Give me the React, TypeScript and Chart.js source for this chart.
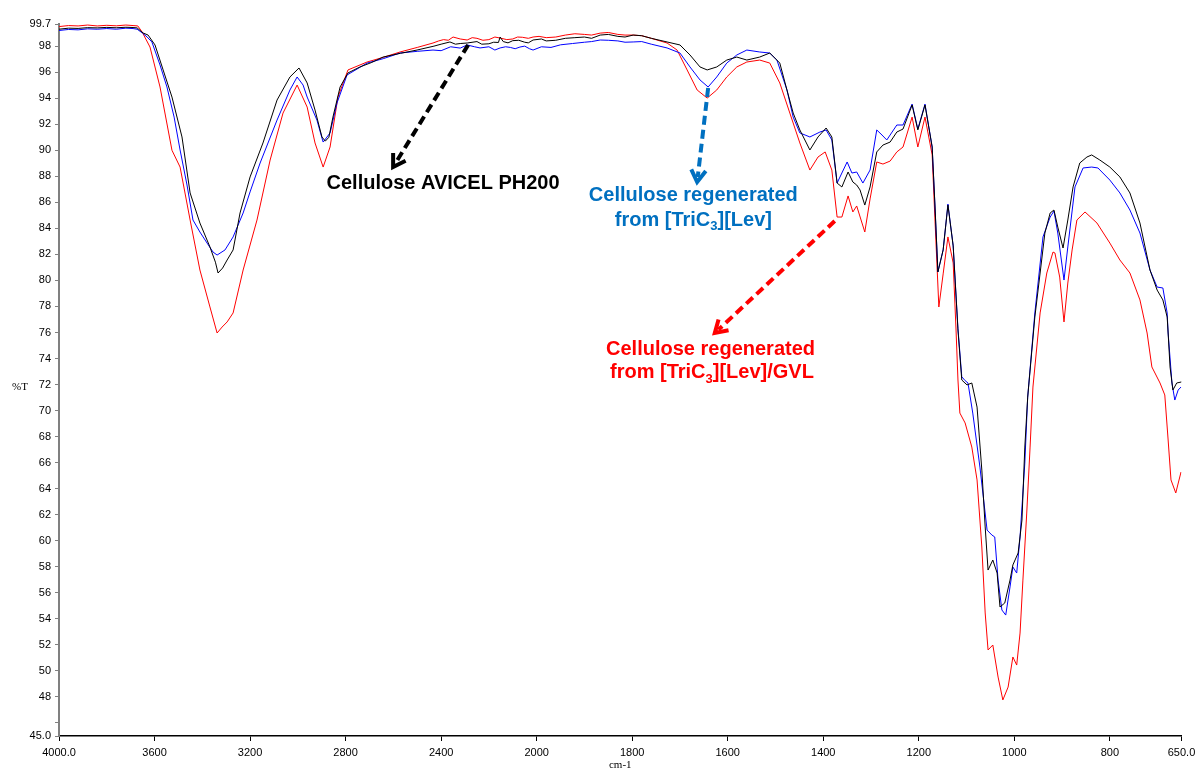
import React, { useEffect, useRef } from 'react';
import { Chart, registerables, LinearScale } from 'chart.js';

// ---------------- DATA ----------------
// Cellulose AVICEL PH200 (black)
const avicelWn = [4000, 3960, 3920, 3880, 3840, 3800, 3760, 3720, 3690, 3673, 3648, 3627, 3598, 3564, 3527, 3485, 3451, 3410, 3368, 3345, 3334, 3315, 3296, 3271, 3242, 3200, 3146, 3087, 3033, 2995, 2961, 2928, 2899, 2885, 2870, 2853, 2823, 2790, 2740, 2690, 2643, 2570, 2501, 2430, 2400, 2363, 2340, 2320, 2291, 2250, 2230, 2200, 2180, 2160, 2153, 2140, 2120, 2100, 2075, 2050, 2035, 2015, 1990, 1980, 1960, 1940, 1920, 1900, 1885, 1867, 1850, 1830, 1815, 1798, 1780, 1760, 1727, 1700, 1679, 1658, 1643, 1623, 1602, 1581, 1560, 1533, 1512, 1491, 1476, 1463, 1449, 1428, 1411, 1394, 1382, 1371, 1361, 1348, 1338, 1330, 1323, 1313, 1302, 1288, 1275, 1260, 1246, 1233, 1214, 1202, 1187, 1172, 1166, 1160, 1149, 1139, 1128, 1118, 1110, 1099, 1089, 1078, 1068, 1061, 1055, 1045, 1036, 1030, 1020, 1009, 1003, 992, 984, 978, 972, 957, 946, 936, 925, 917, 909, 898, 888, 877, 863, 848, 838, 821, 800, 779, 758, 737, 716, 701, 689, 680, 678, 674, 668, 660, 650];
const avicelT = [99.30, 99.38, 99.36, 99.42, 99.40, 99.44, 99.41, 99.45, 99.43, 99.40, 99.01, 98.85, 98.09, 96.17, 94.09, 91.02, 86.72, 84.41, 82.57, 81.40, 80.57, 80.95, 81.57, 82.34, 85.18, 87.95, 90.56, 93.86, 95.63, 96.32, 95.17, 93.09, 91.02, 90.70, 91.00, 92.55, 94.86, 95.94, 96.40, 96.75, 97.16, 97.45, 97.70, 98.00, 98.15, 98.32, 98.15, 98.20, 98.24, 98.35, 98.15, 98.18, 98.30, 98.28, 98.70, 98.35, 98.25, 98.42, 98.45, 98.30, 98.25, 98.47, 98.55, 98.40, 98.45, 98.60, 98.65, 98.70, 98.60, 98.85, 98.90, 98.75, 98.70, 98.85, 98.80, 98.60, 98.32, 98.09, 97.32, 96.40, 96.17, 96.40, 96.93, 97.16, 96.93, 97.16, 97.47, 96.70, 94.63, 92.86, 91.56, 90.02, 91.02, 91.71, 91.02, 87.48, 87.18, 88.33, 87.56, 87.33, 86.95, 85.79, 87.18, 89.87, 90.40, 90.63, 91.40, 91.63, 93.48, 91.56, 93.48, 90.25, 85.64, 80.65, 82.34, 85.79, 82.65, 76.19, 72.35, 71.97, 72.12, 70.27, 65.43, 61.06, 57.75, 58.52, 57.52, 54.91, 55.22, 56.98, 58.14, 59.06, 61.59, 67.20, 71.04, 77.19, 80.57, 83.64, 85.18, 85.41, 84.10, 82.49, 84.64, 87.18, 89.02, 89.48, 89.64, 89.25, 88.71, 87.95, 86.72, 84.41, 80.80, 79.26, 78.50, 77.19, 75.96, 73.35, 71.58, 72.12, 72.20];

// Cellulose regenerated from [TriC3][Lev] (blue)
const tricWn = [4000, 3960, 3920, 3880, 3840, 3800, 3760, 3720, 3690, 3673, 3650, 3631, 3611, 3577, 3548, 3518, 3493, 3464, 3439, 3410, 3380, 3355, 3338, 3305, 3271, 3229, 3200, 3158, 3087, 3033, 3003, 2978, 2961, 2920, 2899, 2894, 2865, 2836, 2794, 2710, 2640, 2572, 2500, 2434, 2400, 2360, 2320, 2291, 2260, 2237, 2200, 2175, 2153, 2130, 2110, 2090, 2070, 2050, 2030, 2015, 1990, 1970, 1950, 1925, 1900, 1885, 1867, 1850, 1830, 1815, 1798, 1780, 1760, 1727, 1700, 1679, 1658, 1641, 1623, 1602, 1581, 1560, 1533, 1512, 1497, 1476, 1463, 1449, 1438, 1428, 1407, 1394, 1382, 1371, 1350, 1340, 1330, 1317, 1302, 1288, 1277, 1267, 1246, 1233, 1214, 1202, 1187, 1172, 1166, 1160, 1149, 1139, 1128, 1118, 1110, 1103, 1097, 1087, 1072, 1057, 1047, 1041, 1034, 1026, 1018, 1009, 1003, 995, 988, 978, 972, 957, 940, 925, 917, 909, 896, 888, 873, 856, 838, 825, 800, 779, 758, 737, 716, 701, 689, 680, 678, 670, 664, 657, 651];
const tricT = [99.20, 99.28, 99.25, 99.33, 99.30, 99.35, 99.30, 99.38, 99.35, 99.30, 99.00, 98.70, 98.32, 96.55, 94.86, 92.55, 90.02, 87.33, 84.64, 83.72, 82.87, 82.18, 81.95, 82.34, 83.34, 85.18, 86.80, 89.02, 92.32, 94.63, 95.63, 95.01, 94.09, 92.32, 90.94, 90.63, 91.33, 93.63, 95.78, 96.70, 97.05, 97.47, 97.60, 97.70, 97.65, 97.95, 97.85, 98.09, 97.95, 97.86, 97.95, 97.70, 97.86, 97.95, 97.90, 97.80, 97.93, 98.00, 97.80, 97.70, 97.95, 97.90, 98.10, 98.20, 98.30, 98.35, 98.47, 98.45, 98.40, 98.30, 98.32, 98.35, 98.15, 97.86, 97.47, 96.40, 95.40, 94.86, 95.63, 96.70, 97.32, 97.70, 97.55, 97.47, 96.93, 94.63, 92.55, 91.33, 91.17, 91.02, 91.40, 91.56, 90.79, 87.48, 89.10, 88.25, 88.33, 87.48, 88.48, 91.56, 91.17, 90.79, 91.94, 91.94, 93.55, 91.63, 93.55, 90.25, 85.64, 80.65, 82.34, 85.87, 82.65, 76.30, 72.60, 72.30, 72.12, 69.81, 65.66, 60.82, 60.44, 60.29, 56.98, 54.68, 54.29, 56.45, 57.98, 57.52, 60.29, 65.97, 71.04, 77.50, 83.34, 84.87, 85.33, 83.64, 80.03, 82.57, 87.18, 88.64, 88.71, 88.64, 87.71, 86.72, 85.41, 83.64, 80.80, 79.49, 79.42, 77.50, 75.96, 72.12, 70.81, 71.58, 71.81];

// Cellulose regenerated from [TriC3][Lev]/GVL (red)
const gvlWn = [4000, 3960, 3920, 3880, 3840, 3800, 3760, 3720, 3690, 3670, 3652, 3619, 3577, 3527, 3493, 3451, 3410, 3368, 3338, 3317, 3296, 3271, 3229, 3171, 3116, 3062, 3003, 2961, 2928, 2894, 2865, 2832, 2790, 2710, 2640, 2572, 2500, 2434, 2410, 2390, 2370, 2350, 2320, 2291, 2270, 2250, 2225, 2200, 2175, 2153, 2125, 2100, 2080, 2060, 2035, 2015, 1995, 1980, 1960, 1940, 1920, 1900, 1885, 1867, 1850, 1830, 1815, 1798, 1780, 1760, 1727, 1706, 1685, 1664, 1643, 1623, 1602, 1581, 1560, 1533, 1512, 1491, 1470, 1449, 1428, 1411, 1396, 1382, 1371, 1361, 1348, 1338, 1330, 1313, 1302, 1288, 1275, 1260, 1246, 1233, 1214, 1202, 1187, 1172, 1166, 1158, 1149, 1139, 1128, 1122, 1118, 1114, 1103, 1089, 1078, 1068, 1061, 1055, 1045, 1034, 1024, 1013, 1003, 995, 988, 982, 974, 967, 961, 946, 932, 919, 915, 905, 896, 888, 879, 869, 852, 827, 800, 779, 758, 737, 722, 712, 695, 685, 678, 672, 662, 651];
const gvlT = [99.50, 99.58, 99.55, 99.62, 99.55, 99.60, 99.56, 99.62, 99.58, 99.55, 99.09, 97.93, 94.86, 90.00, 88.71, 84.64, 80.80, 77.96, 75.96, 76.42, 76.81, 77.50, 80.80, 84.64, 89.25, 92.86, 95.01, 93.32, 90.56, 88.71, 90.25, 94.09, 96.17, 96.78, 97.15, 97.55, 97.90, 98.24, 98.40, 98.50, 98.45, 98.70, 98.55, 98.47, 98.65, 98.60, 98.45, 98.50, 98.70, 98.62, 98.50, 98.55, 98.70, 98.68, 98.60, 98.70, 98.75, 98.65, 98.70, 98.85, 98.95, 98.90, 98.85, 99.00, 99.05, 98.90, 98.85, 98.85, 98.80, 98.60, 98.24, 97.70, 96.17, 94.63, 94.01, 94.63, 95.63, 96.40, 96.78, 96.93, 96.70, 95.17, 92.86, 90.56, 88.48, 89.48, 89.87, 88.48, 84.87, 84.87, 86.49, 85.26, 85.72, 83.72, 86.26, 89.10, 88.94, 89.17, 89.87, 90.25, 92.55, 90.25, 92.55, 89.64, 84.56, 77.96, 80.50, 83.34, 81.34, 76.19, 72.35, 69.81, 69.05, 67.20, 64.67, 59.52, 54.45, 51.61, 51.99, 49.53, 47.77, 48.76, 51.07, 50.45, 52.91, 56.98, 62.13, 67.20, 71.81, 77.50, 80.57, 82.18, 82.11, 80.26, 76.81, 79.80, 82.34, 84.64, 85.26, 84.41, 82.87, 81.57, 80.57, 78.50, 75.96, 73.35, 72.12, 71.20, 67.74, 64.67, 63.67, 65.28];

// Axis ticks
const xTickValues = [4000, 3600, 3200, 2800, 2400, 2000, 1800, 1600, 1400, 1200, 1000, 800, 650];
const xTickLabels = ['4000.0', '3600', '3200', '2800', '2400', '2000', '1800', '1600', '1400', '1200', '1000', '800', '650.0'];
const yTickValues = [99.7, 98, 96, 94, 92, 90, 88, 86, 84, 82, 80, 78, 76, 74, 72, 70, 68, 66, 64, 62, 60, 58, 56, 54, 52, 50, 48, 46, 45];
const yTickLabels = ['99.7', '98', '96', '94', '92', '90', '88', '86', '84', '82', '80', '78', '76', '74', '72', '70', '68', '66', '64', '62', '60', '58', '56', '54', '52', '50', '48', '', '45.0'];

const seriesNames = ['Cellulose AVICEL PH200', 'Cellulose regenerated from [TriC3][Lev]', 'Cellulose regenerated from [TriC3][Lev]/GVL'];

// ---------------- AXIS / STYLE CONFIG ----------------
const X_MIN = 650;
const X_MAX = 4000;
const Y_MIN = 45;
const Y_MAX = 99.7;
const BREAK_WN = 2000; // scale changes here (spectrometer display)
const HIGH_COMPRESSION = 2; // above 2000 cm-1 the axis is compressed 2x

const BLUE_TEXT = '#0070C0';

// annotation placement in data units (wavenumber, %T)
const annotations = [
  {
    color: '#000000',
    from: [2287, 98.09], to: [2601, 88.71],
    lines: [{ at: [2392, 87.48], parts: [{ t: 'Cellulose AVICEL PH200' }] }],
  },
  {
    color: BLUE_TEXT,
    from: [1641, 94.78], to: [1664, 87.56],
    lines: [
      { at: [1672, 86.49], parts: [{ t: 'Cellulose regenerated' }] },
      { at: [1672, 84.64], parts: [{ t: 'from [TriC' }, { t: '3', sub: true }, { t: '][Lev]' }] },
    ],
  },
  {
    color: '#FF0000',
    from: [1376, 84.56], to: [1627, 75.96],
    lines: [
      { at: [1636, 74.73], parts: [{ t: 'Cellulose regenerated' }] },
      { at: [1633, 72.89], parts: [{ t: 'from [TriC' }, { t: '3', sub: true }, { t: '][Lev]/GVL' }] },
    ],
  },
];

// ---------------- CUSTOM SCALE ----------------
class SplitWavenumberScale extends LinearScale {
  static id = 'splitWavenumber';
  static defaults = {};

  _t(v: number) {
    const max = this.max;
    return v >= BREAK_WN ? (max - v) / HIGH_COMPRESSION : (max - BREAK_WN) / HIGH_COMPRESSION + (BREAK_WN - v);
  }
  getPixelForValue(value: number) {
    if (value === null || value === undefined || isNaN(value)) return NaN;
    return this.getPixelForDecimal(this._t(value) / this._t(this.min));
  }
  getValueForPixel(pixel: number) {
    const total = this._t(this.min);
    const d = this.getDecimalForPixel(pixel) * total;
    const tb = (this.max - BREAK_WN) / HIGH_COMPRESSION;
    return d <= tb ? this.max - d * HIGH_COMPRESSION : BREAK_WN - (d - tb);
  }
}

Chart.register(...registerables, SplitWavenumberScale);

const toPoints = (wn: number[], t: number[]) => wn.map((x, i) => ({ x, y: t[i] }));

const BOLD_FONT = (size: number) => `bold ${size}px "Liberation Sans", Arial, sans-serif`;

function drawRich(ctx: CanvasRenderingContext2D, parts: any[], cx: number, cy: number, color: string) {
  const main = 20;
  const sub = 13;
  let total = 0;
  const widths = parts.map((p) => {
    ctx.font = BOLD_FONT(p.sub ? sub : main);
    const w = ctx.measureText(p.t).width;
    total += w;
    return w;
  });
  let x = cx - total / 2;
  ctx.fillStyle = color;
  ctx.textAlign = 'left';
  ctx.textBaseline = 'middle';
  parts.forEach((p, i) => {
    ctx.font = BOLD_FONT(p.sub ? sub : main);
    ctx.fillText(p.t, x, p.sub ? cy + 6 : cy);
    x += widths[i];
  });
}

function drawArrow(ctx: CanvasRenderingContext2D, x1: number, y1: number, x2: number, y2: number, color: string) {
  const ang = Math.atan2(y2 - y1, x2 - x1);
  ctx.save();
  ctx.strokeStyle = color;
  ctx.lineWidth = 4;
  ctx.lineCap = 'butt';
  ctx.setLineDash([9, 5]);
  ctx.beginPath();
  ctx.moveTo(x1, y1);
  ctx.lineTo(x2 - Math.cos(ang) * 5, y2 - Math.sin(ang) * 5);
  ctx.stroke();
  ctx.setLineDash([]);
  const head = 14;
  const spread = 0.55;
  ctx.lineJoin = 'miter';
  ctx.beginPath();
  ctx.moveTo(x2 - head * Math.cos(ang - spread), y2 - head * Math.sin(ang - spread));
  ctx.lineTo(x2, y2);
  ctx.lineTo(x2 - head * Math.cos(ang + spread), y2 - head * Math.sin(ang + spread));
  ctx.stroke();
  ctx.restore();
}

const annotationPlugin = {
  id: 'ftirAnnotations',
  afterDraw(chart: any) {
    const ctx: CanvasRenderingContext2D = chart.ctx;
    const xs = chart.scales.x;
    const ys = chart.scales.y;
    const area = chart.chartArea;
    ctx.save();
    // axis titles
    ctx.font = '11px "Liberation Serif", "Times New Roman", serif';
    ctx.fillStyle = '#000';
    ctx.textBaseline = 'middle';
    ctx.textAlign = 'left';
    ctx.fillText('%T', 12, (area.top + area.bottom) / 2 + 7);
    ctx.textAlign = 'center';
    ctx.fillText('cm-1', (area.left + area.right) / 2, 765);

    annotations.forEach((a) => {
      drawArrow(ctx, xs.getPixelForValue(a.from[0]), ys.getPixelForValue(a.from[1]), xs.getPixelForValue(a.to[0]), ys.getPixelForValue(a.to[1]), a.color);
      a.lines.forEach((ln) => {
        drawRich(ctx, ln.parts, xs.getPixelForValue(ln.at[0]), ys.getPixelForValue(ln.at[1]), a.color);
      });
    });
    ctx.restore();
  },
};

const TICK_FONT = { family: '"Liberation Sans", Arial, sans-serif', size: 11 };

export default function App() {
  const canvasRef = useRef<HTMLCanvasElement | null>(null);

  useEffect(() => {
    if (!canvasRef.current) return;
    const chart = new Chart(canvasRef.current, {
      type: 'line',
      data: {
        datasets: [
          { label: seriesNames[0], data: toPoints(avicelWn, avicelT), borderColor: '#000000', borderWidth: 1, pointRadius: 0, tension: 0, fill: false },
          { label: seriesNames[1], data: toPoints(tricWn, tricT), borderColor: '#0000FF', borderWidth: 1, pointRadius: 0, tension: 0, fill: false },
          { label: seriesNames[2], data: toPoints(gvlWn, gvlT), borderColor: '#FF0000', borderWidth: 1, pointRadius: 0, tension: 0, fill: false },
        ],
      },
      options: {
        responsive: false,
        animation: false,
        events: [],
        layout: { padding: { top: 24, right: 13.5, bottom: 0, left: 0 } },
        plugins: { legend: { display: false }, tooltip: { enabled: false }, title: { display: false } },
        scales: {
          x: {
            type: 'splitWavenumber' as any,
            min: X_MIN,
            max: X_MAX,
            afterBuildTicks: (scale: any) => {
              scale.ticks = xTickValues.map((v) => ({ value: v }));
            },
            afterFit: (scale: any) => {
              scale.height = 35;
              scale.paddingLeft = 0;
              scale.paddingRight = 0;
            },
            ticks: {
              autoSkip: false,
              maxRotation: 0,
              minRotation: 0,
              padding: 5,
              color: '#000',
              font: TICK_FONT,
              callback: (_v: any, i: number) => xTickLabels[i],
            },
            grid: { display: true, drawOnChartArea: false, drawTicks: true, tickLength: 5, color: '#000', lineWidth: 1 },
            border: { display: true, color: '#000', width: 1.5 },
          },
          y: {
            type: 'linear',
            min: Y_MIN,
            max: Y_MAX,
            afterBuildTicks: (scale: any) => {
              scale.ticks = yTickValues.map((v) => ({ value: v }));
            },
            afterFit: (scale: any) => {
              scale.width = 59;
              scale.paddingTop = 0;
              scale.paddingBottom = 0;
            },
            ticks: {
              autoSkip: false,
              padding: 4,
              color: '#000',
              font: TICK_FONT,
              callback: (_v: any, i: number) => yTickLabels[i],
            },
            grid: { display: true, drawOnChartArea: false, drawTicks: true, tickLength: 4, color: '#808080', lineWidth: 1 },
            border: { display: true, color: '#808080', width: 2 },
          },
        },
      },
      plugins: [annotationPlugin],
    });
    return () => chart.destroy();
  }, []);

  return (
    <div style={{ position: 'absolute', left: 0, top: 0, width: 1195, height: 771, background: '#fff' }}>
      <canvas ref={canvasRef} width={1195} height={771} style={{ display: 'block', width: 1195, height: 771 }} />
    </div>
  );
}
